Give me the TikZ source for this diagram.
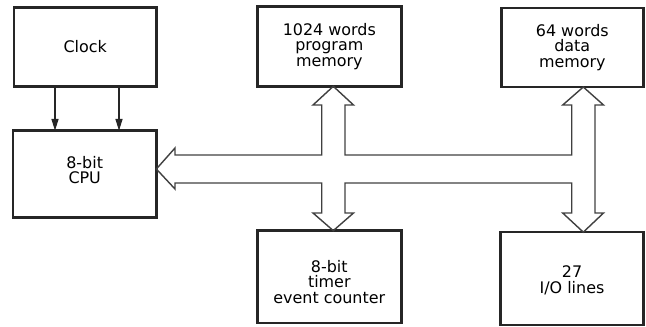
\documentclass[tikz,border=0pt]{standalone}
\usepackage{fontspec}
\setmainfont{DejaVu Sans}
\usetikzlibrary{arrows.meta}
\begin{document}
\begin{tikzpicture}[x=0.03cm,y=-0.03cm,
  box/.style={draw=black!85, line width=2.1pt, outer sep=0pt, inner sep=0pt,
    align=center, font=\fontsize{13.6}{13.2}\selectfont},
  bus/.style={draw=black!75, line width=1.2pt, line join=miter},
  clk/.style={draw=black!85, line width=0.9pt, -{Triangle[length=10pt,width=6pt]}}]
\useasboundingbox (0,0) rectangle (646,326);
\node[box, minimum width=142.3*0.03cm, minimum height=79*0.03cm] (clock) at (85.2,46.8) {Clock};
\node[box, minimum width=143.3*0.03cm, minimum height=86.6*0.03cm] (cpu) at (84.7,174) {8-bit\\CPU\rule[-7pt]{0pt}{7pt}};
\node[box, minimum width=144*0.03cm, minimum height=80*0.03cm] (pm) at (329.3,46.3) {1024 words\\program\\memory};
\node[box, minimum width=144*0.03cm, minimum height=92.3*0.03cm] (tm) at (329.3,276.8) {\rule{0pt}{19pt}8-bit\\timer\\event counter};
\node[box, minimum width=142*0.03cm, minimum height=79*0.03cm] (dm) at (572.3,47.5) {64 words\\data\\memory};
\node[box, minimum width=142.6*0.03cm, minimum height=92.7*0.03cm] (io) at (572,278.5) {\rule{0pt}{13.5pt}27\\I/O lines};
\coordinate (pa) at (333.3,169);
\coordinate (da) at (583.3,169);
\coordinate (c1) at (55,0);
\coordinate (c2) at (119,0);
\draw[clk] (clock.south -| c1) -- (cpu.north -| c1);
\draw[clk] (clock.south -| c2) -- (cpu.north -| c2);
\draw[bus] (cpu.east |- pa) -- (175,148) -- (175,155) -- (321.7,155) -- (321.7,105) -- (313,105)
  -- (pa |- pm.south) -- (353.5,105) -- (345,105) -- (345,155) -- (571.7,155) -- (571.7,105)
  -- (562.7,105) -- (da |- dm.south) -- (603.5,105) -- (595,105) -- (595,213) -- (603.5,213)
  -- (da |- io.north) -- (562.7,213) -- (571.7,213) -- (571.7,183) -- (345,183) -- (345,213)
  -- (353.5,213) -- (pa |- tm.north) -- (313,213) -- (321.7,213) -- (321.7,183) -- (175,183)
  -- (175,189) -- cycle;
\end{tikzpicture}
\end{document}
